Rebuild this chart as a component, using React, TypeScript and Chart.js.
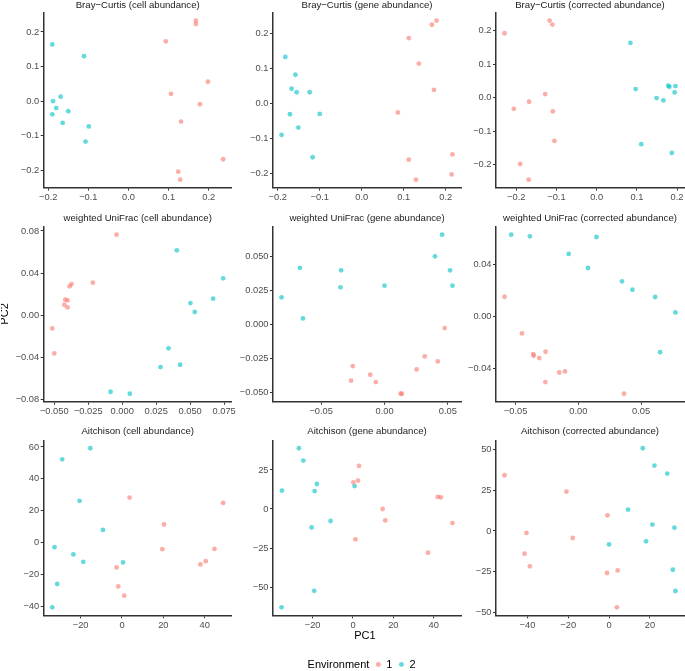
import React, { useEffect, useRef } from 'react';
import { Chart, registerables } from 'chart.js';
Chart.register(...registerables);

const FONT = "'Liberation Sans', Arial, Helvetica, sans-serif";
const PINK = 'rgba(248,118,109,0.6)';
const CYAN = 'rgba(0,191,196,0.6)';

type Pt = [number, number];

// ---------- data (PC1, PC2) per panel and environment ----------
const bcCellEnv1: Pt[] = [[0.168, 0.233], [0.168, 0.223], [0.093, 0.173], [0.198, 0.056], [0.106, 0.021], [0.178, -0.009], [0.131, -0.059], [0.236, -0.168], [0.124, -0.204], [0.129, -0.227]];
const bcCellEnv2: Pt[] = [[-0.190, 0.164], [-0.111, 0.130], [-0.169, 0.013], [-0.188, 0.000], [-0.180, -0.020], [-0.150, -0.029], [-0.190, -0.038], [-0.164, -0.063], [-0.099, -0.073], [-0.107, -0.117]];

const bcGeneEnv1: Pt[] = [[0.178, 0.237], [0.167, 0.225], [0.112, 0.187], [0.136, 0.114], [0.172, 0.039], [0.086, -0.026], [0.216, -0.146], [0.112, -0.161], [0.214, -0.203], [0.129, -0.218]];
const bcGeneEnv2: Pt[] = [[-0.182, 0.133], [-0.158, 0.082], [-0.167, 0.042], [-0.155, 0.032], [-0.124, 0.032], [-0.171, -0.031], [-0.100, -0.030], [-0.151, -0.069], [-0.191, -0.090], [-0.117, -0.154]];

const bcCorrEnv1: Pt[] = [[-0.229, 0.193], [-0.117, 0.231], [-0.110, 0.219], [-0.128, 0.011], [-0.206, -0.033], [-0.168, -0.012], [-0.109, -0.041], [-0.105, -0.129], [-0.190, -0.198], [-0.169, -0.245]];
const bcCorrEnv2: Pt[] = [[0.084, 0.164], [0.097, 0.026], [0.178, 0.036], [0.181, 0.033], [0.196, 0.035], [0.194, 0.016], [0.149, -0.001], [0.166, -0.008], [0.111, -0.139], [0.187, -0.165]];

const wuCellEnv1: Pt[] = [[-0.0042, 0.0765], [-0.0216, 0.0308], [-0.0373, 0.0295], [-0.0387, 0.0273], [-0.0419, 0.0146], [-0.0402, 0.0140], [-0.0426, 0.0098], [-0.0402, 0.0073], [-0.0515, -0.0127], [-0.0500, -0.0365]];
const wuCellEnv2: Pt[] = [[0.0402, 0.0616], [0.0743, 0.0349], [0.0669, 0.0156], [0.0502, 0.0114], [0.0534, 0.0029], [0.0341, -0.0317], [0.0426, -0.0473], [0.0282, -0.0495], [-0.0086, -0.0730], [0.0056, -0.0749]];

const wuGeneEnv1: Pt[] = [[0.0475, -0.0028], [0.0317, -0.0237], [0.0420, -0.0274], [0.0253, -0.0333], [-0.0251, -0.0308], [-0.0113, -0.0372], [-0.0069, -0.0426], [-0.0264, -0.0416], [0.0127, -0.0512], [0.0137, -0.0512]];
const wuGeneEnv2: Pt[] = [[-0.0813, 0.0198], [-0.0668, 0.0416], [-0.0644, 0.0043], [-0.0343, 0.0397], [-0.0348, 0.0272], [0.0000, 0.0284], [0.0454, 0.0660], [0.0398, 0.0500], [0.0517, 0.0397], [0.0536, 0.0284]];

const wuCorrEnv1: Pt[] = [[-0.0588, 0.0154], [-0.0449, -0.0129], [-0.0261, -0.0270], [-0.0359, -0.0288], [-0.0356, -0.0301], [-0.0311, -0.0319], [-0.0106, -0.0422], [-0.0152, -0.0430], [-0.0263, -0.0504], [0.0364, -0.0594]];
const wuCorrEnv2: Pt[] = [[-0.0535, 0.0633], [-0.0386, 0.0620], [0.0144, 0.0615], [-0.0077, 0.0484], [0.0077, 0.0376], [0.0348, 0.0273], [0.0431, 0.0208], [0.0612, 0.0152], [0.0774, 0.0033], [0.0652, -0.0273]];

const aiCellEnv1: Pt[] = [[3.7, 28.3], [48.9, 25.0], [20.3, 11.5], [19.5, -4.0], [44.7, -3.8], [40.5, -11.5], [37.9, -13.5], [-2.6, -15.4], [-1.8, -27.3], [1.1, -33.1]];
const aiCellEnv2: Pt[] = [[-28.9, 52.3], [-15.3, 59.2], [-20.5, 26.3], [-9.2, 8.1], [-32.6, -2.7], [-23.5, -7.3], [-18.7, -11.9], [0.5, -12.3], [-31.3, -25.8], [-33.7, -40.4]];

const aiGeneEnv1: Pt[] = [[3.0, 27.6], [2.5, 18.2], [0.2, 17.1], [14.7, 0.0], [16.0, -7.3], [1.2, -19.4], [42.0, 7.7], [43.5, 7.5], [49.3, -9.0], [37.2, -28.0]];
const aiGeneEnv2: Pt[] = [[-26.8, 38.9], [-24.6, 31.0], [-35.2, 11.8], [-17.9, 16.0], [-19.0, 11.5], [0.8, 14.7], [-11.1, -7.7], [-20.5, -11.8], [-19.2, -52.4], [-35.4, -63.0]];

const aiCorrEnv1: Pt[] = [[-51.2, 34.1], [-20.9, 24.1], [-0.8, 9.6], [-40.5, -1.2], [-17.8, -4.3], [-41.4, -13.9], [-38.8, -21.6], [-1.0, -25.7], [4.2, -24.1], [3.8, -46.7]];
const aiCorrEnv2: Pt[] = [[16.5, 50.6], [22.2, 40.0], [28.5, 35.1], [9.3, 13.1], [21.2, 3.9], [32.0, 2.0], [18.1, -6.3], [0.0, -8.2], [31.2, -23.7], [32.5, -36.7]];

// ---------- panel titles ----------
const panelTitles = [
  'Bray\u2212Curtis (cell abundance)', 'Bray\u2212Curtis (gene abundance)', 'Bray\u2212Curtis (corrected abundance)',
  'weighted UniFrac (cell abundance)', 'weighted UniFrac (gene abundance)', 'weighted UniFrac (corrected abundance)',
  'Aitchison (cell abundance)', 'Aitchison (gene abundance)', 'Aitchison (corrected abundance)',
];

// ---------- tick values ----------
const bcTicks = [-0.2, -0.1, 0, 0.1, 0.2];
const wuCellXTicks = [-0.05, -0.025, 0, 0.025, 0.05, 0.075];
const wuCellYTicks = [-0.08, -0.04, 0, 0.04, 0.08];
const wuGeneXTicks = [-0.05, 0, 0.05];
const wuGeneYTicks = [-0.05, -0.025, 0, 0.025, 0.05];
const wuCorrXTicks = [-0.05, 0, 0.05];
const wuCorrYTicks = [-0.04, 0, 0.04];
const aiCellXTicks = [-20, 0, 20, 40];
const aiCellYTicks = [-40, -20, 0, 20, 40, 60];
const aiGeneXTicks = [-20, 0, 20, 40];
const aiGeneYTicks = [-50, -25, 0, 25];
const aiCorrXTicks = [-40, -20, 0, 20];
const aiCorrYTicks = [-50, -25, 0, 25, 50];

const legendTitle = 'Environment';
const environments = ['1', '2'];

interface PanelCfg {
  title: string; env1: Pt[]; env2: Pt[];
  xTicks: number[]; yTicks: number[]; xDec: number; yDec: number;
  row: number; col: number;
}

const panels: PanelCfg[] = [
  { title: panelTitles[0], env1: bcCellEnv1, env2: bcCellEnv2, xTicks: bcTicks, yTicks: bcTicks, xDec: 1, yDec: 1, row: 0, col: 0 },
  { title: panelTitles[1], env1: bcGeneEnv1, env2: bcGeneEnv2, xTicks: bcTicks, yTicks: bcTicks, xDec: 1, yDec: 1, row: 0, col: 1 },
  { title: panelTitles[2], env1: bcCorrEnv1, env2: bcCorrEnv2, xTicks: bcTicks, yTicks: bcTicks, xDec: 1, yDec: 1, row: 0, col: 2 },
  { title: panelTitles[3], env1: wuCellEnv1, env2: wuCellEnv2, xTicks: wuCellXTicks, yTicks: wuCellYTicks, xDec: 3, yDec: 2, row: 1, col: 0 },
  { title: panelTitles[4], env1: wuGeneEnv1, env2: wuGeneEnv2, xTicks: wuGeneXTicks, yTicks: wuGeneYTicks, xDec: 2, yDec: 3, row: 1, col: 1 },
  { title: panelTitles[5], env1: wuCorrEnv1, env2: wuCorrEnv2, xTicks: wuCorrXTicks, yTicks: wuCorrYTicks, xDec: 2, yDec: 2, row: 1, col: 2 },
  { title: panelTitles[6], env1: aiCellEnv1, env2: aiCellEnv2, xTicks: aiCellXTicks, yTicks: aiCellYTicks, xDec: 0, yDec: 0, row: 2, col: 0 },
  { title: panelTitles[7], env1: aiGeneEnv1, env2: aiGeneEnv2, xTicks: aiGeneXTicks, yTicks: aiGeneYTicks, xDec: 0, yDec: 0, row: 2, col: 1 },
  { title: panelTitles[8], env1: aiCorrEnv1, env2: aiCorrEnv2, xTicks: aiCorrXTicks, yTicks: aiCorrYTicks, xDec: 0, yDec: 0, row: 2, col: 2 },
];

// ---------- layout geometry ----------
const COL_LEFT = [43.7, 273, 496];
const ROW_TOP = [12.6, 226.7, 440.3];
const PW = 188;
const PH = 175;
const LW = 42;
const RW = 20;
const TITLE_SIZE = 9.6;
const TITLE_LH = TITLE_SIZE * 1.2;
const TITLE_GAP = [1.6, 3.0, 2.9];
const TICK_SIZE = 9.3;
const XH = 16;

function expand(vals: number[]): [number, number] {
  const mn = Math.min(...vals);
  const mx = Math.max(...vals);
  const r = mx - mn;
  return [mn - 0.05 * r, mx + 0.05 * r];
}

function fmt(v: number, d: number): string {
  const s = Math.abs(v) < 1e-12 ? (0).toFixed(d) : v.toFixed(d);
  return s.replace('-', '\u2212');
}

function axisCommon(ticks: number[], dec: number, range: [number, number], isX: boolean) {
  return {
    type: 'linear' as const,
    position: isX ? 'bottom' : 'left',
    min: range[0],
    max: range[1],
    afterBuildTicks: (s: any) => { s.ticks = ticks.map((v) => ({ value: v })); },
    afterFit: (s: any) => { if (isX) s.height = XH; else s.width = LW; },
    ticks: {
      font: { family: FONT, size: TICK_SIZE },
      color: '#4D4D4D',
      padding: 1.5,
      maxRotation: 0,
      autoSkip: false,
      callback: (v: any) => fmt(Number(v), dec),
    },
    grid: { display: true, drawOnChartArea: false, drawTicks: true, tickLength: 3, color: '#333333', lineWidth: 1 },
    border: { display: true, color: '#333333', width: 1.5 },
  };
}

function Panel({ cfg }: { cfg: PanelCfg }) {
  const ref = useRef<HTMLCanvasElement>(null);
  const TH = TITLE_LH + TITLE_GAP[cfg.row];
  const x0 = COL_LEFT[cfg.col] - LW;
  const cl = Math.floor(x0);
  const padL = x0 - cl;
  const width = Math.ceil(padL + LW + PW + RW);
  const padR = width - padL - LW - PW;
  const y0 = ROW_TOP[cfg.row] - TH;
  const ct = Math.floor(y0);
  const padT = y0 - ct;
  const height = Math.ceil(padT + TH + PH + XH);
  const padB = height - padT - TH - PH - XH;

  useEffect(() => {
    if (!ref.current) return;
    const all = cfg.env1.concat(cfg.env2);
    const xr = expand(all.map((p) => p[0]));
    const yr = expand(all.map((p) => p[1]));
    const chart = new Chart(ref.current, {
      type: 'scatter',
      data: {
        datasets: [
          { label: environments[0], data: cfg.env1.map((p) => ({ x: p[0], y: p[1] })), backgroundColor: PINK, borderWidth: 0, pointRadius: 2.4, pointHoverRadius: 2.4 },
          { label: environments[1], data: cfg.env2.map((p) => ({ x: p[0], y: p[1] })), backgroundColor: CYAN, borderWidth: 0, pointRadius: 2.4, pointHoverRadius: 2.4 },
        ],
      },
      options: {
        responsive: false,
        animation: false,
        devicePixelRatio: 1,
        events: [],
        layout: { padding: { left: padL, top: padT, right: padR, bottom: padB } },
        plugins: {
          legend: { display: false },
          tooltip: { enabled: false },
          title: {
            display: true,
            text: cfg.title,
            color: '#1A1A1A',
            font: { family: FONT, size: TITLE_SIZE, weight: 'normal', lineHeight: 1.2 },
            padding: { top: 0, bottom: TITLE_GAP[cfg.row] },
            fullSize: false,
          },
        },
        scales: {
          x: axisCommon(cfg.xTicks, cfg.xDec, xr, true) as any,
          y: axisCommon(cfg.yTicks, cfg.yDec, yr, false) as any,
        },
      },
    });
    return () => chart.destroy();
  }, [cfg]);

  return (
    <canvas
      ref={ref}
      width={width}
      height={height}
      style={{ position: 'absolute', left: cl, top: ct, width, height, display: 'block' }}
    />
  );
}

// Frame chart: shared axis titles (PC1 / PC2) and the legend
const FRAME_LEFT = 1;
const FRAME_W = 685;
const FRAME_H = 680;
const LEG_FONT = 11;
const LEG_PAD = 6.5;

function Frame() {
  const ref = useRef<HTMLCanvasElement>(null);
  useEffect(() => {
    if (!ref.current) return;
    const plotLeft = COL_LEFT[0];
    const plotRight = COL_LEFT[2] + PW;
    const plotTop = ROW_TOP[0];
    const plotBottom = ROW_TOP[2] + PH;
    const legH = LEG_FONT + LEG_PAD + 10;
    const xTitleH = FRAME_H - legH - plotBottom;
    const none = 'rgba(0,0,0,0)';
    const chart = new Chart(ref.current, {
      type: 'scatter',
      data: {
        datasets: [
          { label: environments[0], data: [], backgroundColor: PINK },
          { label: environments[1], data: [], backgroundColor: CYAN },
        ],
      },
      options: {
        responsive: false,
        animation: false,
        devicePixelRatio: 1,
        events: [],
        layout: { padding: { left: 0, top: plotTop, right: FRAME_W - plotRight, bottom: 0 } },
        plugins: {
          tooltip: { enabled: false },
          title: { display: false },
          legend: {
            display: true,
            position: 'bottom',
            fullSize: false,
            labels: {
              usePointStyle: true,
              boxWidth: 5,
              boxHeight: 3.5,
              padding: LEG_PAD,
              color: '#000',
              font: { family: FONT, size: LEG_FONT },
              generateLabels: () => [
                { text: legendTitle, fillStyle: none, strokeStyle: none, lineWidth: 0, pointStyle: 'circle', hidden: false, fontColor: '#000' },
                { text: environments[0], fillStyle: PINK, strokeStyle: none, lineWidth: 0, pointStyle: 'circle', hidden: false, fontColor: '#000', datasetIndex: 0 },
                { text: environments[1], fillStyle: CYAN, strokeStyle: none, lineWidth: 0, pointStyle: 'circle', hidden: false, fontColor: '#000', datasetIndex: 1 },
                { text: '', fillStyle: none, strokeStyle: none, lineWidth: 0, pointStyle: 'circle', hidden: false, fontColor: none },
              ] as any,
            },
          },
        },
        scales: {
          x: {
            type: 'linear', min: 0, max: 1, position: 'bottom',
            ticks: { display: false }, grid: { display: false }, border: { display: false },
            afterFit: (s: any) => { s.height = xTitleH; },
            title: { display: true, text: 'PC1', color: '#000', font: { family: FONT, size: 11, lineHeight: 1.2 }, padding: { top: 0, bottom: xTitleH - 21 - 6.6 } },
          },
          y: {
            type: 'linear', min: 0, max: 1, position: 'left',
            ticks: { display: false }, grid: { display: false }, border: { display: false },
            afterFit: (s: any) => { s.width = plotLeft; },
            title: { display: true, text: 'PC2', color: '#000', font: { family: FONT, size: 11, lineHeight: 0.8 }, padding: { top: 0, bottom: 0 } },
          },
        },
      },
    });
    return () => chart.destroy();
  }, []);
  return (
    <canvas
      ref={ref}
      width={FRAME_W}
      height={FRAME_H}
      style={{ position: 'absolute', left: FRAME_LEFT, top: 0, width: FRAME_W, height: FRAME_H, display: 'block' }}
    />
  );
}

export default function App() {
  return (
    <div style={{ position: 'absolute', left: 0, top: 0, width: 685, height: 671, overflow: 'hidden', background: '#ffffff' }}>
      <Frame />
      {panels.map((p, i) => <Panel key={i} cfg={p} />)}
    </div>
  );
}
